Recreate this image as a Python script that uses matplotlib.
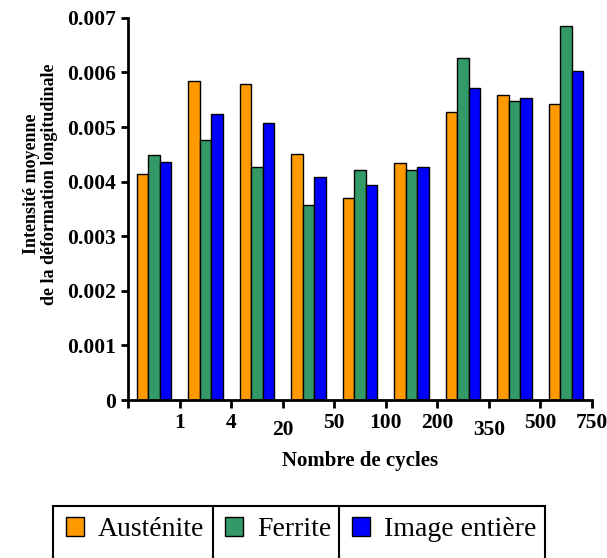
import numpy as np
import matplotlib.pyplot as plt
from matplotlib.patches import Rectangle
from matplotlib.lines import Line2D

cycles = ['1', '4', '20', '50', '100', '200', '350', '500', '750']
austenite = [0.00414, 0.00584, 0.00578, 0.00451, 0.00370, 0.00435, 0.00527, 0.00559, 0.00542]
ferrite = [0.00448, 0.00476, 0.00427, 0.00358, 0.00422, 0.00422, 0.00627, 0.00548, 0.00686]
image_entiere = [0.00436, 0.00524, 0.00507, 0.00408, 0.00393, 0.00426, 0.00571, 0.00554, 0.00603]

plt.rcParams['font.family'] = ['Liberation Serif', 'DejaVu Serif']

fig = plt.figure(figsize=(6.07, 5.58), dpi=100)
ax = fig.add_axes([0.211, 0.283, 0.764, 0.685])

x = np.arange(len(cycles)) + 0.5
w = 0.222
b1 = ax.bar(x - w, austenite, w, color='#FF9900', edgecolor='black', linewidth=1, label='Austénite')
b2 = ax.bar(x, ferrite, w, color='#339966', edgecolor='black', linewidth=1, label='Ferrite')
b3 = ax.bar(x + w, image_entiere, w, color='#0000FF', edgecolor='black', linewidth=1, label='Image entière')

ax.set_xlim(0, len(cycles))
ax.set_ylim(0, 0.007)
ax.set_yticks(np.arange(0, 0.0071, 0.001))
ax.set_yticklabels(['0'] + ['%.3f' % v for v in np.arange(0.001, 0.0071, 0.001)])

# ticks at group boundaries, labels under the right edge of each group
ax.set_xticks(np.arange(0, len(cycles) + 1))
ax.set_xticklabels([''] + cycles)
extra = [0, 0, 0, 5, 0, 0, 0, 5, 0, 0]
for t, e in zip(ax.xaxis.get_major_ticks(), extra):
    t.set_pad(3 + e)

for s in ['top', 'right']:
    ax.spines[s].set_visible(False)
for s in ['left', 'bottom']:
    ax.spines[s].set_linewidth(2)
ax.tick_params(axis='both', width=2, length=5, labelsize=15.5)
ax.tick_params(axis='x', length=6)
for lab in ax.get_xticklabels() + ax.get_yticklabels():
    lab.set_fontweight('bold')

ax.set_ylabel('Intensité moyenne\nde la déformation longitudinale', fontsize=13, fontweight='bold',
              linespacing=1.05)
ax.yaxis.set_label_coords(-0.152, 0.565)
ax.set_xlabel('Nombre de cycles', fontsize=15, fontweight='bold', labelpad=8)

# legend drawn as a three-cell box
fig.legend(handles=[b1, b2, b3], loc='upper left', bbox_to_anchor=(0.09, 0.093), ncol=3,
           frameon=False, fontsize=20, handlelength=0.65, handleheight=0.65,
           handletextpad=0.5, columnspacing=0.75, borderaxespad=0)
fig.patches.append(Rectangle((53 / 607, -0.05), (545 - 53) / 607, 0.05 + 52 / 558,
                             transform=fig.transFigure, fill=False, lw=1.5, ec='black'))
for xp in [213, 339]:
    fig.lines.append(Line2D([xp / 607, xp / 607], [-0.05, 52 / 558],
                            transform=fig.transFigure, color='black', lw=1.5))

fig.savefig('out.png', dpi=100)
